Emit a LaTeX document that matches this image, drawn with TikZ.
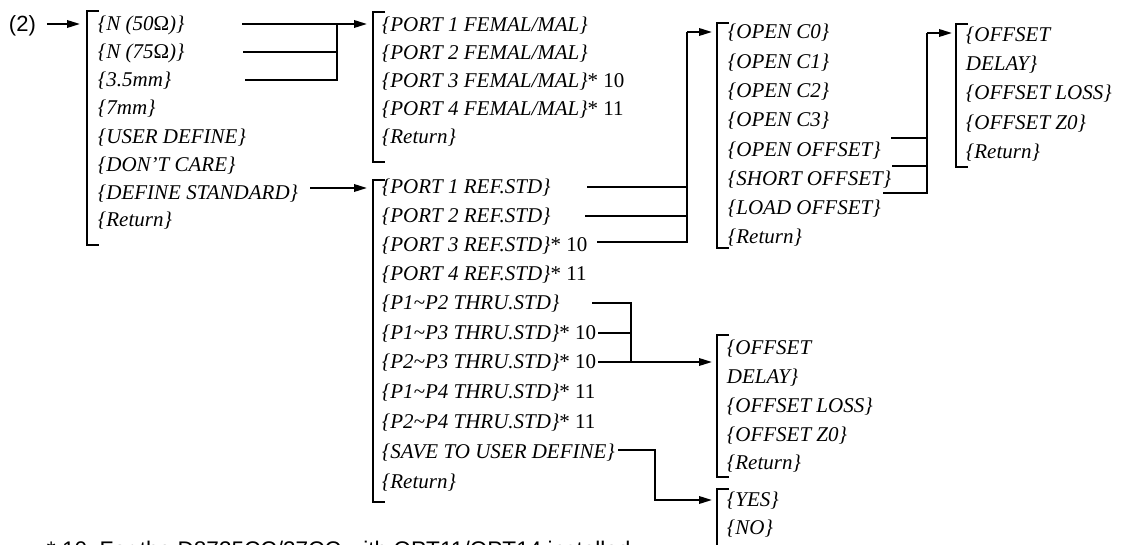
\documentclass[tikz,border=0pt]{standalone}
\usepackage{fontspec}
\setmainfont{Liberation Serif}
\newfontfamily\tagfont{Liberation Sans}
\usetikzlibrary{arrows.meta}

% bracket of a menu: x, top, bottom
\newcommand{\menubracket}[3]{\draw (#1+12,#2) -- (#1,#2) -- (#1,#3) -- (#1+12,#3);}

\begin{document}
\begin{tikzpicture}[
    x=1pt, y=-1pt,
    line width=1.9pt,
    item/.style={anchor=west, inner sep=0pt, text height=15pt, text depth=2pt, font=\fontsize{21}{25}\selectfont\itshape},
    tag/.style={anchor=base west, inner sep=0pt, font=\tagfont\fontsize{22}{26}\selectfont},
    arrow/.style={-{Triangle[length=13pt,width=7.5pt]}}
]
\useasboundingbox (0,0) rectangle (1121,545);

% Label
\node[tag] (lbl) at (8,32) {(2)};

% Menu 1
\node[item] (n50) at (97,24) {\{N (50{\upshape Ω})\}};
\node[item] (n75) at (97,52) {\{N (75{\upshape Ω})\}};
\node[item] (mm35) at (97,80) {\{3.5mm\}};
\node[item] (mm7) at (97,108) {\{7mm\}};
\node[item] (userdef) at (97,137) {\{USER DEFINE\}};
\node[item] (dontcare) at (97,165) {\{DON’T CARE\}};
\node[item] (defstd) at (97,193) {\{DEFINE STANDARD\}};
\node[item] (ret1) at (97,220) {\{Return\}};

% Menu 2 (connector)
\node[item] (port1f) at (381,25) {\{PORT 1 FEMAL/MAL\}};
\node[item] (port2f) at (381,53) {\{PORT 2 FEMAL/MAL\}};
\node[item] (port3f) at (381,81) {\{PORT 3 FEMAL/MAL\}\upshape* 10};
\node[item] (port4f) at (381,109) {\{PORT 4 FEMAL/MAL\}\upshape* 11};
\node[item] (ret2) at (381,137) {\{Return\}};

% Menu 3 (standard)
\node[item] (port1r) at (381,187) {\{PORT 1 REF.STD\}};
\node[item] (port2r) at (381,216) {\{PORT 2 REF.STD\}};
\node[item] (port3r) at (381,245) {\{PORT 3 REF.STD\}\upshape* 10};
\node[item] (port4r) at (381,274) {\{PORT 4 REF.STD\}\upshape* 11};
\node[item] (p12) at (381,303) {\{P1\textasciitilde P2 THRU.STD\}};
\node[item] (p13) at (381,333) {\{P1\textasciitilde P3 THRU.STD\}\upshape* 10};
\node[item] (p23) at (381,362) {\{P2\textasciitilde P3 THRU.STD\}\upshape* 10};
\node[item] (p14) at (381,392) {\{P1\textasciitilde P4 THRU.STD\}\upshape* 11};
\node[item] (p24) at (381,422) {\{P2\textasciitilde P4 THRU.STD\}\upshape* 11};
\node[item] (save) at (381,452) {\{SAVE TO USER DEFINE\}};
\node[item] (ret3) at (381,482) {\{Return\}};

% Menu 4 (open)
\node[item] (openc0) at (727,32) {\{OPEN C0\}};
\node[item] (openc1) at (727,62) {\{OPEN C1\}};
\node[item] (openc2) at (727,91) {\{OPEN C2\}};
\node[item] (openc3) at (727,120) {\{OPEN C3\}};
\node[item] (openoff) at (727,150) {\{OPEN OFFSET\}};
\node[item] (shortoff) at (727,179) {\{SHORT OFFSET\}};
\node[item] (loadoff) at (727,208) {\{LOAD OFFSET\}};
\node[item] (ret4) at (727,237) {\{Return\}};

% Menu 5 (offset, top)
\node[item] (offa) at (965,35) {\{OFFSET};
\node[item] (delaya) at (965,64) {DELAY\}};
\node[item] (lossa) at (965,93) {\{OFFSET LOSS\}};
\node[item] (zoa) at (965,123) {\{OFFSET Z0\}};
\node[item] (ret5) at (965,152) {\{Return\}};

% Menu 6 (offset, bottom)
\node[item] (offb) at (726,348) {\{OFFSET};
\node[item] (delayb) at (726,377) {DELAY\}};
\node[item] (lossb) at (726,406) {\{OFFSET LOSS\}};
\node[item] (zob) at (726,435) {\{OFFSET Z0\}};
\node[item] (ret6) at (726,463) {\{Return\}};

% Menu 7 (yes/no)
\node[item] (yes) at (726,500) {\{YES\}};
\node[item] (no) at (726,528) {\{NO\}};

% Footnote
\node[tag, font=\tagfont\fontsize{22.6}{26}\selectfont] (note) at (46,557) {* 10\ \ For the D8735CC/37CC with OPT11/OPT14 installed};

% Brackets
\menubracket{87}{11}{245}
\menubracket{373}{12}{162}
\menubracket{373}{180}{502}
\menubracket{717}{23}{248}
\menubracket{956}{24}{167}
\menubracket{717}{335}{477}
\menubracket{717}{489}{560}

% Entry points and junctions
\coordinate (m1) at (80,24);
\coordinate (m2) at (367,24);
\coordinate (m3) at (367,188);
\coordinate (m4) at (712,32);
\coordinate (m5) at (952,33);
\coordinate (m6) at (712,362);
\coordinate (m7) at (712,500);
\coordinate (j1) at (337,24);
\coordinate (j3) at (687,32);
\coordinate (j4) at (927,33);
\coordinate (j6) at (631,362);
\coordinate (j7) at (655,500);

% Arrows menu 1
\draw[arrow] ([xshift=10pt]lbl.east |- m1) -- (m1);
\draw[arrow] ([xshift=145pt]n50.west) -- (m2);
\draw ([xshift=146pt]n75.west) -| (j1);
\draw ([xshift=148pt]mm35.west) -| (j1);
\draw[arrow] ([xshift=213pt,yshift=5pt]defstd.west) -- (m3);

% Arrows menu 3
\draw ([xshift=206pt]port1r.west) -| (j3);
\draw ([xshift=204pt]port2r.west) -| (j3);
\draw ([xshift=216pt,yshift=3pt]port3r.west) -| (j3);
\draw[arrow] (j3) -- (m4);
\draw ([xshift=211pt]p12.west) -| (j6);
\draw ([xshift=217pt]p13.west) -| (j6);
\draw[arrow] ([xshift=217pt]p23.west) -- (m6);
\draw[arrow] ([xshift=237pt,yshift=2pt]save.west) -| (j7) -- (m7);

% Arrows menu 4
\draw ([xshift=164pt,yshift=12pt]openoff.west) -| (j4);
\draw ([xshift=165pt,yshift=13pt]shortoff.west) -| (j4);
\draw ([xshift=156pt,yshift=15pt]loadoff.west) -| (j4);
\draw[arrow] (j4) -- (m5);

\end{tikzpicture}
\end{document}
